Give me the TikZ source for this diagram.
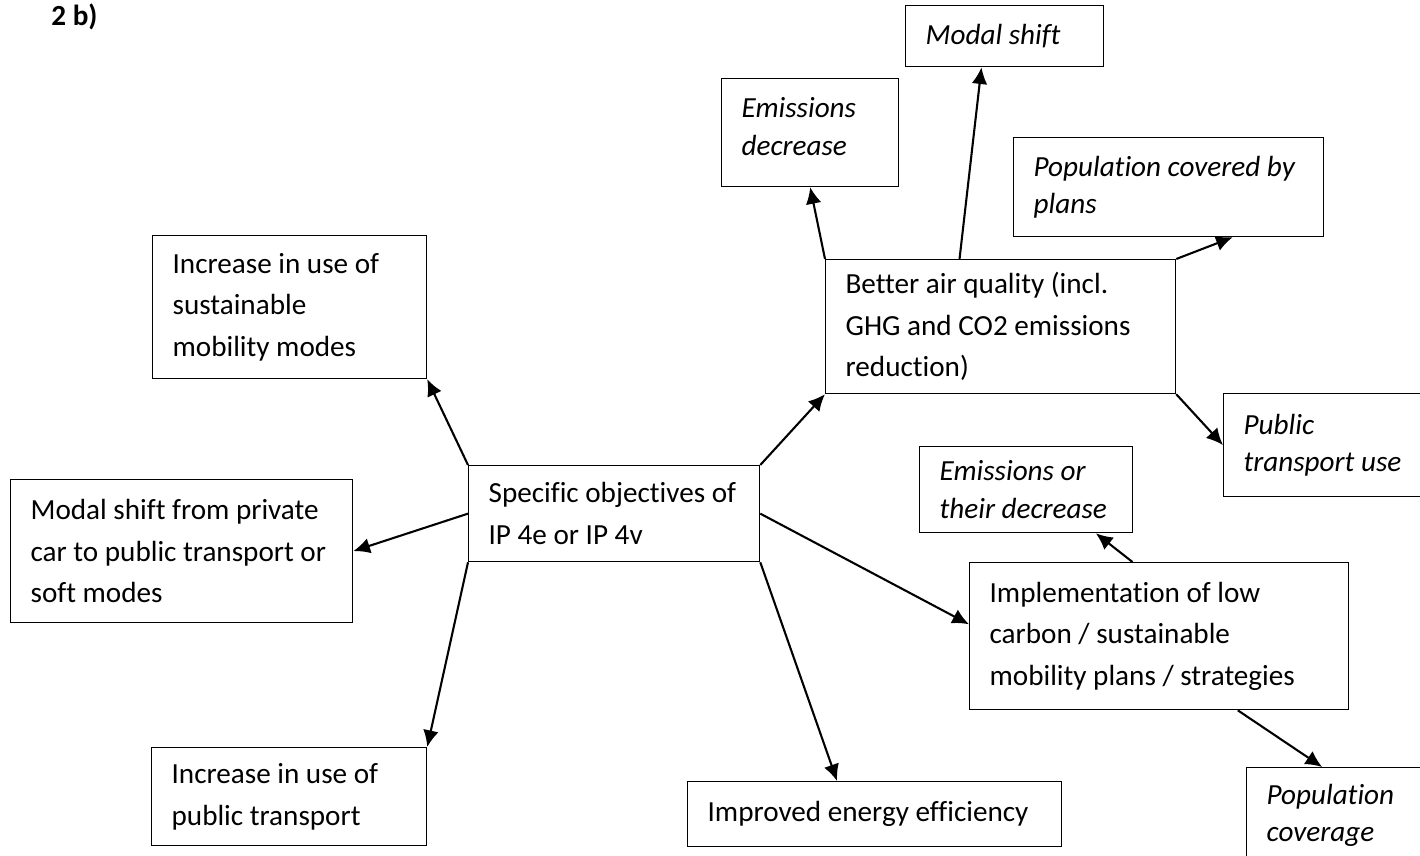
\documentclass[tikz,border=0pt]{standalone}
\usepackage{fontspec}
\setmainfont{Carlito}[Ligatures=NoCommon]
\usetikzlibrary{arrows.meta,calc}

\tikzstyle{box}=[draw,line width=0.6pt,rectangle,anchor=north west,align=flush left,inner xsep=0pt,inner ysep=0pt,execute at begin node={\leftskip=9.6pt},font=\fontsize{14}{20}\selectfont]
\tikzstyle{result box}=[box,font=\fontsize{14}{18}\selectfont\itshape]
\tikzstyle{link}=[draw,line width=1pt,-{Latex[length=8pt,width=7.5pt]}]

\begin{document}
\begin{tikzpicture}[x=0.48pt,y=-0.48pt]
			\useasboundingbox (0,0) rectangle (1420,856);
			\clip (0,0) rectangle (1420,856);
			\node[anchor=west,font=\fontsize{14}{20}\selectfont\bfseries,inner sep=0pt] (title) at (51,17) {2 b)};
			% objectives and their results
			\node[box,text width=139.7pt,minimum height=46.1pt] (obj) at (468,465) {Specific objectives of\\IP 4e or IP 4v};
			\node[box,text width=131.5pt,minimum height=68.6pt] (sust) at (152,235) {Increase in use of\\sustainable\\mobility modes};
			\node[box,text width=164.2pt,minimum height=68.6pt] (priv) at (10,479) {Modal shift from private\\car to public transport or\\soft modes};
			\node[box,text width=132pt,minimum height=47pt] (ptrans) at (151,747) {Increase in use of\\public transport};
			\node[box,text width=179.5pt,minimum height=31.2pt] (energy) at (687,781) {Improved energy efficiency};
			\node[box,text width=181.9pt,minimum height=70.6pt] (impl) at (969,562) {Implementation of low\\carbon / sustainable\\mobility plans / strategies};
			\node[box,text width=168pt,minimum height=64.3pt] (air) at (825,259) {Better air quality (incl.\\GHG and CO2 emissions\\reduction)};
			% indicators
			\node[result box,text width=85pt,minimum height=51.8pt] (emdec) at (721,78) {Emissions\\decrease\vspace{6pt}};
			\node[result box,text width=95pt,minimum height=29.3pt] (modal) at (905,5) {Modal shift};
			\node[result box,text width=148.8pt,minimum height=47.5pt] (pop) at (1013,137) {Population covered by\\plans};
			\node[result box,text width=140pt,minimum height=49.4pt] (pubuse) at (1223,393) {Public\\transport use};
			\node[result box,text width=102.2pt,minimum height=41.3pt] (emor) at (919,446) {Emissions or\\their decrease};
			\node[result box,text width=140pt,minimum height=46pt] (popcov) at (1246,767) {Population\\coverage};
			% arrows between boxes
			\foreach \source/\dest in {obj.north west/sust.south east, obj.west/priv.east, obj.south west/ptrans.north east, obj.north east/air.south west, air.north west/emdec.south, air.south east/pubuse.west}
			\path[link] (\source) to (\dest);
			\path[link] (obj.east) to ($(impl.north west)!0.42!(impl.south west)$);
			\path[link] (obj.south east) to ($(energy.north west)!0.4!(energy.north east)$);
			\path[link] ($(air.north west)!0.383!(air.north east)$) to ($(modal.south west)!0.384!(modal.south east)$);
			\path[link] (air.north east) to ($(pop.south west)!0.706!(pop.south east)$);
			\path[link] ($(impl.north west)!0.43!(impl.north east)$) to ($(emor.south west)!0.826!(emor.south east)$);
			\path[link] ($(impl.south west)!0.707!(impl.south east)$) to ($(popcov.north west)!0.26!(popcov.north east)$);
		\end{tikzpicture}
\end{document}
